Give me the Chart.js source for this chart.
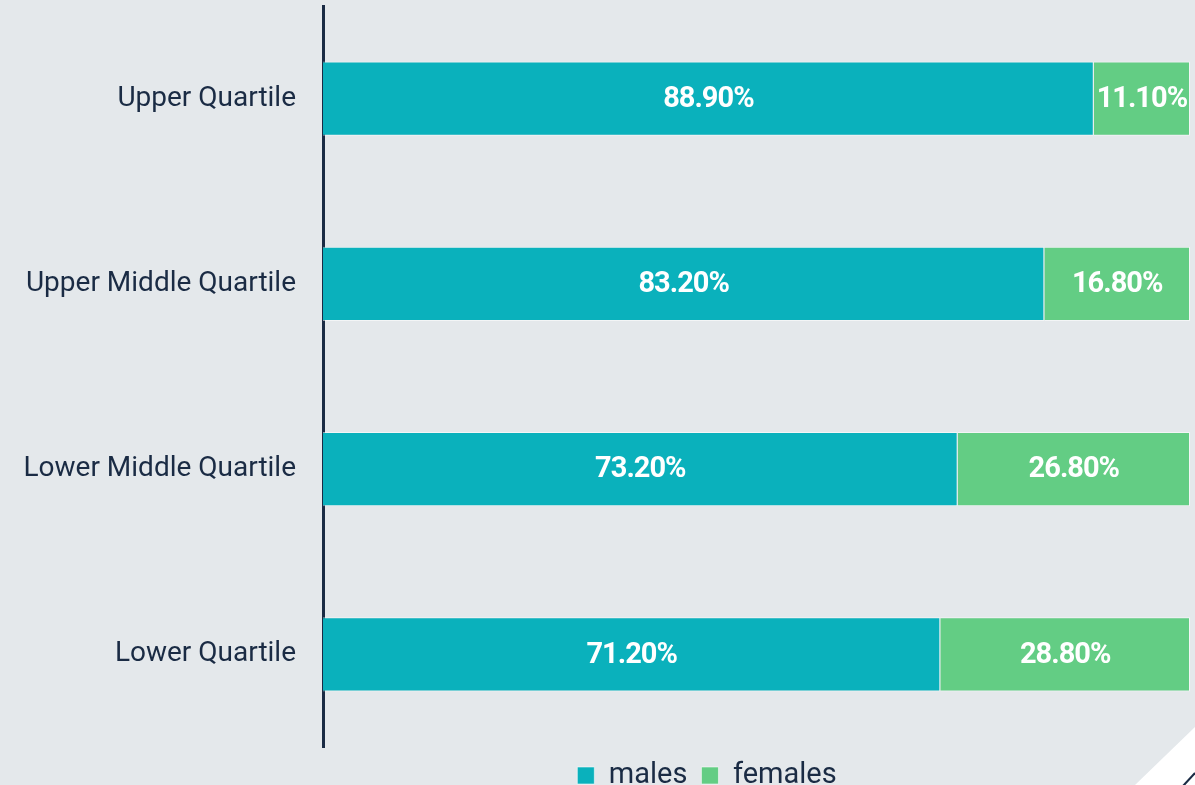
<!DOCTYPE html>
<html>
<head>
<meta charset="utf-8">
<script src="https://cdn.jsdelivr.net/npm/chart.js@4.4.0/dist/chart.umd.min.js"></script>
<style>
  html, body { margin: 0; padding: 0; background: #e4e8eb; overflow: hidden; }
  #wrap { position: relative; width: 1195px; height: 800px; }
</style>
</head>
<body>
<div id="wrap"><canvas id="quartileChart"></canvas></div>
<script>
const categories = ['Upper Quartile', 'Upper Middle Quartile', 'Lower Middle Quartile', 'Lower Quartile'];
const males = [88.9, 83.2, 73.2, 71.2];
const females = [11.1, 16.8, 26.8, 28.8];

const textColor = '#1a2b44';

// white values in the middle of each bar
const barLabels = {
    id: 'barLabels',
    afterDatasetsDraw(chart) {
        const ctx = chart.ctx;
        ctx.save();
        ctx.fillStyle = '#ffffff';
        ctx.font = 'bold 29px Roboto';
        ctx.letterSpacing = '-1px';
        ctx.textAlign = 'center';
        ctx.textBaseline = 'middle';
        chart.data.datasets.forEach((ds, i) => {
            chart.getDatasetMeta(i).data.forEach((bar, j) => {
                const p = bar.getCenterPoint();
                ctx.fillText(ds.data[j].toFixed(2) + '%', p.x, p.y + 1);
            });
        });
        ctx.restore();
    }
};

// legend in the original sits a bit right of the page centre
const legendShift = {
    id: 'legendShift',
    afterLayout(chart) {
        chart.legend.left += 112;
        chart.legend.right += 112;
    }
};

// corner decoration bottom right
const corner = {
    id: 'corner',
    afterDraw(chart) {
        const ctx = chart.ctx;
        ctx.save();
        ctx.fillStyle = '#ffffff';
        ctx.beginPath();
        ctx.moveTo(1195, 727);
        ctx.lineTo(1195, 800);
        ctx.lineTo(1120, 800);
        ctx.lineTo(1135, 785);
        ctx.closePath();
        ctx.fill();
        ctx.strokeStyle = textColor;
        ctx.lineWidth = 2;
        ctx.beginPath();
        ctx.moveTo(1195, 773);
        ctx.lineTo(1183, 786);
        ctx.stroke();
        ctx.restore();
    }
};

const ctx = document.getElementById('quartileChart').getContext('2d');
new Chart(ctx, {
    type: 'bar',
    data: {
        labels: categories,
        datasets: [{
            label: 'males',
            data: males,
            backgroundColor: '#0ab1bc',
            borderColor: 'rgba(255,255,255,0.55)',
            borderWidth: 1,
            categoryPercentage: 0.8,
            barPercentage: 0.5
        }, {
            label: 'females',
            data: females,
            backgroundColor: '#63cd84',
            borderColor: 'rgba(255,255,255,0.55)',
            borderWidth: 1,
            categoryPercentage: 0.8,
            barPercentage: 0.5
        }]
    },
    options: {
        indexAxis: 'y',
        responsive: true,
        maintainAspectRatio: false,
        animation: false,
        layout: { padding: { top: 6, right: 5, bottom: 0, left: 0 } },
        scales: {
            x: {
                stacked: true,
                min: 0,
                max: 100,
                display: false
            },
            y: {
                stacked: true,
                grid: { display: false, drawTicks: false },
                border: { color: textColor, width: 3 },
                ticks: {
                    color: textColor,
                    font: { family: 'Roboto', size: 28 },
                    padding: 27
                },
                afterFit: function (scale) {
                    scale.width = 323;
                    scale.paddingTop = 0;
                    scale.paddingBottom = 0;
                }
            }
        },
        plugins: {
            legend: {
                position: 'bottom',
                labels: {
                    color: textColor,
                    font: { family: 'Roboto', size: 29 },
                    boxWidth: 17,
                    boxHeight: 17,
                    padding: 14
                }
            },
            tooltip: { enabled: false }
        }
    },
    plugins: [barLabels, legendShift, corner]
});
</script>
</body>
</html>
